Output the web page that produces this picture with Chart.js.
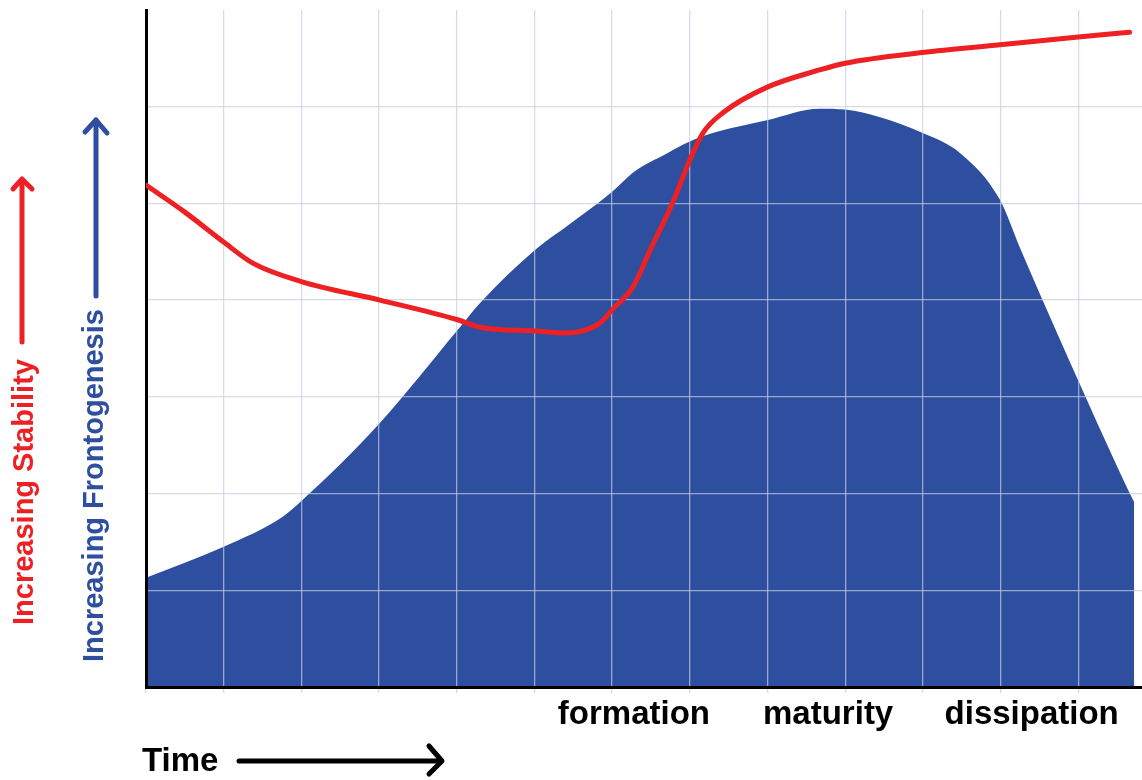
<!DOCTYPE html>
<html><head><meta charset="utf-8">
<script src="https://cdn.jsdelivr.net/npm/chart.js@4/dist/chart.umd.min.js"></script>
<style>html,body{margin:0;padding:0;background:#fff;} canvas{display:block;}</style>
</head><body>
<canvas id="c" width="1142" height="780"></canvas>
<script>
// ---- data ----
const frontoTime   = [0, 1.0, 1.76, 2.01, 3.01, 4.0, 4.3, 5.01, 5.46, 6.0, 6.27, 6.71, 7.0, 7.35, 7.99, 8.67, 9.0, 9.45, 9.99, 10.48, 10.99, 11.25, 12.11, 12.64, 12.72];
const frontoValues = [1.13, 1.45, 1.76, 1.93, 2.73, 3.68, 3.97, 4.52, 4.79, 5.12, 5.32, 5.52, 5.64, 5.74, 5.86, 5.98, 5.97, 5.89, 5.73, 5.52, 5.04, 4.54, 2.97, 2.04, 1.91];
const stabTime     = [0, 0.5, 1.0, 1.38, 2.01, 3.01, 4.0, 4.3, 5.01, 5.39, 5.84, 6.0, 6.27, 6.49, 6.78, 7.0, 7.17, 7.43, 7.99, 8.67, 9.0, 9.99, 10.99, 12.0, 12.66];
const stabValues   = [5.19, 4.91, 4.60, 4.38, 4.19, 4.00, 3.80, 3.72, 3.68, 3.66, 3.76, 3.90, 4.14, 4.52, 5.01, 5.45, 5.73, 5.94, 6.20, 6.38, 6.45, 6.56, 6.64, 6.72, 6.77];
const phaseLabels    = ['formation', 'maturity', 'dissipation'];
const phasePositions = [6.28, 8.78, 11.40];
const xMin = 0, xMax = 12.82, yMin = 0, yMax = 7;
const stabilityTitle = 'Increasing Stability';
const frontoTitle = 'Increasing Frontogenesis';
const timeTitle = 'Time';

// ---- styles ----
const RED = '#ed2024', BLUE = '#2e4fa0';
const GRID = 'rgba(196,205,224,0.7)';
const FONT = '"Liberation Sans", Arial, Helvetica, sans-serif';

const decorations = {
  id: 'decorations',
  afterDraw(chart) {
    const ctx = chart.ctx;
    ctx.save();
    ctx.lineCap = 'round'; ctx.lineJoin = 'round';
    ctx.font = 'bold 29px ' + FONT;
    ctx.textAlign = 'left'; ctx.textBaseline = 'alphabetic';
    ctx.save(); ctx.translate(33, 625); ctx.rotate(-Math.PI / 2);
    ctx.fillStyle = RED; ctx.fillText(stabilityTitle, 0, 0); ctx.restore();
    ctx.save(); ctx.translate(103, 662); ctx.rotate(-Math.PI / 2);
    ctx.fillStyle = BLUE; ctx.fillText(frontoTitle, 0, 0); ctx.restore();
    function arrow(color, pts, head) {
      ctx.strokeStyle = color; ctx.lineWidth = 5;
      ctx.beginPath(); ctx.moveTo(pts[0], pts[1]); ctx.lineTo(pts[2], pts[3]); ctx.stroke();
      ctx.beginPath(); ctx.moveTo(head[0], head[1]); ctx.lineTo(head[2], head[3]); ctx.lineTo(head[4], head[5]); ctx.stroke();
    }
    arrow(RED, [22, 342, 22, 180], [13, 189, 22, 179, 32, 189]);
    arrow(BLUE, [96, 296, 96, 120], [85, 132, 96, 120, 107, 133]);
    ctx.font = 'bold 33px ' + FONT;
    ctx.fillStyle = '#000';
    ctx.fillText(timeTitle, 142, 771);
    arrow('#000', [239, 761, 441, 761], [429, 746, 442, 761, 429, 774]);
    ctx.restore();
  }
};

new Chart(document.getElementById('c'), {
  type: 'line',
  data: {
    datasets: [
      {
        label: 'Frontogenesis',
        data: frontoTime.map((t, i) => ({ x: t, y: frontoValues[i] })),
        fill: 'origin',
        backgroundColor: BLUE,
        borderWidth: 0,
        borderColor: 'rgba(0,0,0,0)',
        pointRadius: 0,
        cubicInterpolationMode: 'monotone',
        order: 2
      },
      {
        label: 'Stability',
        data: stabTime.map((t, i) => ({ x: t, y: stabValues[i] })),
        fill: false,
        borderColor: RED,
        borderWidth: 5,
        borderCapStyle: 'round',
        borderJoinStyle: 'round',
        pointRadius: 0,
        cubicInterpolationMode: 'monotone',
        order: 1
      }
    ]
  },
  options: {
    responsive: false,
    animation: false,
    events: [],
    layout: { padding: { top: 10, left: 0, right: 0, bottom: 0 } },
    plugins: {
      legend: { display: false },
      tooltip: { enabled: false },
      filler: { drawTime: 'beforeDraw' }
    },
    scales: {
      x: {
        type: 'linear', min: xMin, max: xMax, position: 'bottom',
        ticks: { display: false, stepSize: 1, includeBounds: false },
        grid: { color: GRID, lineWidth: 1.3, drawTicks: true, tickLength: 6, tickColor: '#d3d9e5' },
        border: { color: '#000', width: 3 },
        afterFit(s) { s.height = 8; }
      },
      xl: {
        type: 'linear', min: xMin, max: xMax, position: 'bottom',
        afterBuildTicks(s) { s.ticks = phasePositions.map(v => ({ value: v })); },
        ticks: {
          autoSkip: false, maxRotation: 0, minRotation: 0, padding: 0,
          color: '#000', font: { family: FONT, size: 33, weight: 'bold' },
          callback: (v, i) => phaseLabels[i]
        },
        grid: { display: false, drawTicks: false },
        border: { display: false },
        afterFit(s) { s.height = 85; }
      },
      y: {
        type: 'linear', min: yMin, max: yMax,
        ticks: { display: false, stepSize: 1 },
        grid: { color: c => (c.tick && c.tick.value === yMax) ? 'rgba(0,0,0,0)' : GRID, lineWidth: 1.3, drawTicks: false },
        border: { color: '#000', width: 3 },
        afterFit(s) { s.width = 146; }
      }
    }
  },
  plugins: [decorations]
});
</script>
</body></html>
